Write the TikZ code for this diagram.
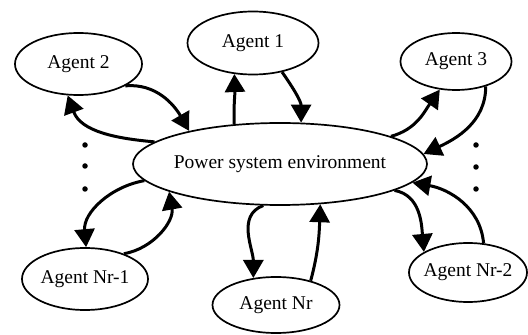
\documentclass[tikz,border=0pt]{standalone}
\usepackage{fontspec}
\setmainfont{Liberation Serif}
\usetikzlibrary{shapes.geometric,arrows.meta}
\newcommand\ctext[1]{\makebox[0pt]{#1}}
\begin{document}
\begin{tikzpicture}[x=1pt,y=1pt,
  ell/.style={ellipse,draw,line width=1.7pt,inner sep=0pt,font=\fontsize{19.5}{22}\selectfont},
  link/.style={line width=3pt,-{Triangle[length=18pt,width=20pt]}},
  dotmark/.style={circle,fill,inner sep=0pt,minimum size=5.5pt}]
\useasboundingbox (0,0) rectangle (528,335);
\node[ell,minimum width=294pt,minimum height=82pt] (env) at (280,171) {\ctext{Power system environment}};
\node[ell,minimum width=127pt,minimum height=62pt] (a2) at (78.5,271) {\ctext{Agent 2}};
\node[ell,minimum width=131pt,minimum height=63pt] (a1) at (253,292) {\ctext{Agent 1}};
\node[ell,minimum width=111pt,minimum height=57pt] (a3) at (456,273.5) {\ctext{Agent 3}};
\node[ell,minimum width=126pt,minimum height=62pt] (anr1) at (85,56) {\ctext{Agent Nr-1}};
\node[ell,minimum width=127pt,minimum height=56pt] (anr) at (276,30) {\ctext{Agent Nr}};
\node[ell,minimum width=118pt,minimum height=59pt] (anr2) at (468,62.5) {\ctext{Agent Nr-2}};
% dots
\node[dotmark] (dl1) at (85,190) {};
\node[dotmark] (dl2) at (85,169) {};
\node[dotmark] (dl3) at (85,146) {};
\node[dotmark] (dr1) at (476,190) {};
\node[dotmark] (dr2) at (476,168) {};
\node[dotmark] (dr3) at (476,146) {};
% connectors
\draw[link] (a2.-25) to[out=5,in=120] (env.160);
\draw[link] (env.170) to[out=175,in=-70] (a2.-109);
\draw[link] (env.139) to[out=92,in=-88] (a1.-121);
\draw[link] (a1.-45) to[out=-55,in=90] (env.63);
\draw[link] (env.14) to[out=15,in=-125] (a3.-120);
\draw[link] (a3.-40) to[out=-90,in=25] (env.4);
\draw[link] (env.187) to[out=190,in=95] (anr1.88);
\draw[link] (anr1.33) to[out=10,in=-80] (env.194);
\draw[link] (env.-112) to[out=200,in=90] (anr.130);
\draw[link] (anr.35) to[out=75,in=-92] (env.-45);
\draw[link] (env.-13) to[out=-10,in=95] (anr2.155);
\draw[link] (anr2.62) to[out=95,in=-10] (env.-8);
\end{tikzpicture}
\end{document}
